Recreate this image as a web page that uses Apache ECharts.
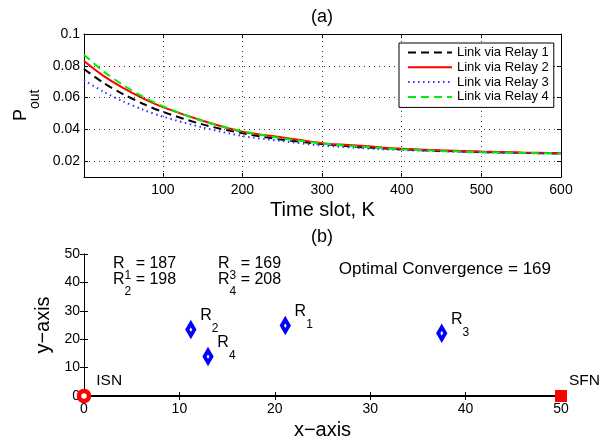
<!DOCTYPE html>
<html>
<head>
<meta charset="utf-8">
<script src="https://cdn.jsdelivr.net/npm/echarts@6/dist/echarts.min.js"></script>
<style>
html, body { margin: 0; padding: 0; background: #fff; }
#chart { width: 612px; height: 442px; }
</style>
</head>
<body>
<div id="chart"></div>
<script>
// (a) outage probability vs time slot
const timeSlots = [1, 25, 50, 75, 100, 150, 200, 250, 300, 350, 400, 450, 500, 550, 600];
const pRelay1 = [0.078, 0.0694, 0.0622, 0.0561, 0.051, 0.0431, 0.0375, 0.0335, 0.0308, 0.0288, 0.0274, 0.0264, 0.0257, 0.0252, 0.0248];
const pRelay2 = [0.083, 0.0738, 0.0661, 0.0595, 0.054, 0.0454, 0.0385, 0.0349, 0.0313, 0.0296, 0.0278, 0.0268, 0.026, 0.0254, 0.025];
const pRelay3 = [0.071, 0.0638, 0.0576, 0.0524, 0.048, 0.0412, 0.0358, 0.0326, 0.0298, 0.0282, 0.027, 0.0262, 0.0255, 0.0251, 0.0247];
const pRelay4 = [0.087, 0.0766, 0.0679, 0.0606, 0.0545, 0.0452, 0.0388, 0.0343, 0.0312, 0.029, 0.0275, 0.0264, 0.0257, 0.0252, 0.0248];
const seriesNames = ['Link via Relay 1', 'Link via Relay 2', 'Link via Relay 3', 'Link via Relay 4'];
const xTicksA = [100, 200, 300, 400, 500, 600];
const yTicksA = [0.02, 0.04, 0.06, 0.08, 0.1];

// (b) node placement
const relayIds = ['1', '2', '3', '4'];
const relayX = [21.1, 11.2, 37.5, 13.0];
const relayY = [24.8, 23.4, 22.1, 13.9];
const convergence = [187, 198, 169, 208];
const optimalConvergence = 169;
const nodeNames = ['ISN', 'SFN'];
const nodeX = [0, 50];
const nodeY = [0, 0];

const FONT = 'Liberation Sans, Arial, sans-serif';
const chart = echarts.init(document.getElementById('chart'), null, { renderer: 'canvas' });

function zip(xs, ys) { return xs.map((x, i) => [x, ys[i]]); }

const pData = [pRelay1, pRelay2, pRelay3, pRelay4];
const lineColors = ['#000000', '#ff0000', '#3333ff', '#00ee00'];
const lineTypes = [[8, 5], 'solid', [1.5, 3.5], [8, 5]];

const subRich = (rSize, sSize, h) => ({
  h: { fontSize: 1, lineHeight: h, fontFamily: FONT, color: '#000' },
  r: { fontSize: rSize, lineHeight: rSize + 1, verticalAlign: 'top', fontFamily: FONT, color: '#000' },
  s: { fontSize: sSize, lineHeight: sSize, verticalAlign: 'bottom', fontFamily: FONT, color: '#000' }
});

const boxAxisLine = { show: true, lineStyle: { color: '#000', width: 1 } };
const tickInside = (vals) => ({ show: true, inside: true, length: 4, lineStyle: { color: '#000' }, customValues: vals });
const tickLabel = { color: '#000', fontSize: 14, fontFamily: FONT };

// top-left convergence text, two columns
const convText = [];
const colX = [112.7, 217.7];
const rowY = [255.3, 271.5];
convergence.forEach((v, i) => {
  const col = Math.floor(i / 2), row = i % 2;
  convText.push({
    type: 'text',
    x: colX[col], y: rowY[row],
    style: {
      text: '{h| }{r|R}{s|' + relayIds[i] + '}{r| = ' + v + '}',
      rich: subRich(16, 12, 26),
      verticalAlign: 'top', textVerticalAlign: 'top'
    }
  });
});

// dotted grid of panel (a), drawn as mark lines at the tick values
const gridLines = xTicksA.slice(0, -1).map(v => ({ xAxis: v }))
  .concat(yTicksA.slice(0, -1).map(v => ({ yAxis: v })));

const option = {
  animation: false,
  backgroundColor: '#fff',
  textStyle: { fontFamily: FONT },
  grid: [
    { left: 84, top: 34, width: 477, height: 143 },
    { left: 84, top: 254, width: 477, height: 142 }
  ],
  legend: {
    left: 399, top: 43, orient: 'vertical', z: 30,
    itemWidth: 44, itemHeight: 14, itemGap: 1.8,
    padding: [3, 5, 4, 8],
    borderColor: '#000', borderWidth: 1, borderRadius: 0,
    backgroundColor: '#fff',
    selectedMode: false,
    itemStyle: { opacity: 0 },
    textStyle: { fontSize: 13, color: '#000', fontFamily: FONT },
    data: seriesNames
  },
  xAxis: [
    {
      gridIndex: 0, type: 'value', min: 1, max: 600,
      axisLine: boxAxisLine, axisTick: tickInside(xTicksA),
      axisLabel: Object.assign({ customValues: xTicksA, margin: 6 }, tickLabel),
      splitLine: { show: false },
      name: 'Time slot, K', nameLocation: 'middle', nameGap: 23,
      nameTextStyle: { fontSize: 20, color: '#000', fontFamily: FONT }
    },
    {
      gridIndex: 0, type: 'value', min: 1, max: 600, position: 'top',
      axisLine: boxAxisLine, axisTick: tickInside(xTicksA),
      axisLabel: { show: false }, splitLine: { show: false }
    },
    {
      gridIndex: 1, type: 'value', min: 0, max: 50, interval: 10,
      axisLine: boxAxisLine, axisTick: { show: true, inside: true, length: 4 },
      axisLabel: Object.assign({ margin: 6 }, tickLabel),
      splitLine: { show: false },
      name: 'x\u2212axis', nameLocation: 'middle', nameGap: 24,
      nameTextStyle: { fontSize: 20, color: '#000', fontFamily: FONT }
    },
    {
      gridIndex: 1, type: 'value', min: 0, max: 50, interval: 10, position: 'top',
      axisLine: boxAxisLine, axisTick: { show: true, inside: true, length: 4 },
      axisLabel: { show: false }, splitLine: { show: false }
    }
  ],
  yAxis: [
    {
      gridIndex: 0, type: 'value', min: 0.01, max: 0.1,
      axisLine: boxAxisLine, axisTick: tickInside(yTicksA),
      axisLabel: Object.assign({ customValues: yTicksA, margin: 4 }, tickLabel),
      splitLine: { show: false },
      name: '{h| }{r|P}{s|out}', nameLocation: 'middle', nameGap: 40, nameRotate: 90,
      nameTextStyle: { rich: subRich(18, 14, 30) }
    },
    {
      gridIndex: 0, type: 'value', min: 0.01, max: 0.1, position: 'right',
      axisLine: boxAxisLine, axisTick: tickInside(yTicksA),
      axisLabel: { show: false }, splitLine: { show: false }
    },
    {
      gridIndex: 1, type: 'value', min: 0, max: 50, interval: 10,
      axisLine: boxAxisLine, axisTick: { show: true, inside: true, length: 4 },
      axisLabel: Object.assign({ margin: 4 }, tickLabel),
      splitLine: { show: false },
      name: 'y\u2212axis', nameLocation: 'middle', nameGap: 28, nameRotate: 90,
      nameTextStyle: { fontSize: 20, color: '#000', fontFamily: FONT }
    },
    {
      gridIndex: 1, type: 'value', min: 0, max: 50, interval: 10, position: 'right',
      axisLine: boxAxisLine, axisTick: { show: true, inside: true, length: 4 },
      axisLabel: { show: false }, splitLine: { show: false }
    }
  ],
  graphic: [
    { type: 'text', x: 322, y: 17.5, style: { text: '(a)', fontSize: 18, fontFamily: FONT, fill: '#000', align: 'center', verticalAlign: 'middle', textAlign: 'center', textVerticalAlign: 'middle' } },
    { type: 'text', x: 322, y: 237.5, style: { text: '(b)', fontSize: 18, fontFamily: FONT, fill: '#000', align: 'center', verticalAlign: 'middle', textAlign: 'center', textVerticalAlign: 'middle' } },
    { type: 'text', x: 551, y: 269, style: { text: 'Optimal Convergence = ' + optimalConvergence, fontSize: 17, fontFamily: FONT, fill: '#000', align: 'right', verticalAlign: 'middle', textAlign: 'right', textVerticalAlign: 'middle' } }
  ].concat(convText),
  series: [
    {
      name: 'grid', type: 'line', xAxisIndex: 0, yAxisIndex: 0, data: [], z: 1,
      markLine: {
        silent: true, symbol: ['none', 'none'], animation: false,
        label: { show: false },
        lineStyle: { color: '#333', type: [1, 4], width: 1 },
        emphasis: { disabled: true },
        data: gridLines
      }
    }
  ].concat(pData.map((arr, i) => ({
    name: seriesNames[i], type: 'line', xAxisIndex: 0, yAxisIndex: 0,
    data: zip(timeSlots, arr), symbol: 'none', smooth: 0.3,
    lineStyle: { color: lineColors[i], width: 2, type: lineTypes[i] },
    itemStyle: { color: lineColors[i] }, z: 3 + i
  }))).concat([
    {
      name: 'link', type: 'line', xAxisIndex: 2, yAxisIndex: 2,
      data: zip(nodeX, nodeY), symbol: 'none',
      lineStyle: { color: '#000', width: 2 }, z: 2
    },
    {
      name: 'relays', type: 'scatter', xAxisIndex: 2, yAxisIndex: 2, clip: false,
      symbol: 'diamond', symbolSize: [7, 12],
      itemStyle: { color: '#fff', borderColor: '#0000ff', borderWidth: 4, opacity: 1 },
      data: relayIds.map((id, i) => ({ name: id, value: [relayX[i], relayY[i]] })),
      label: {
        show: true, position: 'right', distance: 4, offset: [0, -8.5], color: '#000',
        formatter: (p) => '{h| }{r|R}{s|' + p.name + '}',
        rich: subRich(16, 12, 27)
      },
      z: 5
    },
    {
      name: 'ISN', type: 'scatter', xAxisIndex: 2, yAxisIndex: 2, clip: false,
      symbol: 'circle', symbolSize: 10,
      itemStyle: { color: '#fff', borderColor: '#ff0000', borderWidth: 4.5, opacity: 1 },
      data: [{ name: nodeNames[0], value: [nodeX[0], nodeY[0]] }],
      label: { show: true, position: 'right', distance: 5, offset: [0, -15], formatter: '{b}', fontSize: 15.5, color: '#000', fontFamily: FONT },
      z: 6
    },
    {
      name: 'SFN', type: 'scatter', xAxisIndex: 2, yAxisIndex: 2, clip: false,
      symbol: 'rect', symbolSize: 12,
      itemStyle: { color: '#ff0000', opacity: 1 },
      data: [{ name: nodeNames[1], value: [nodeX[1], nodeY[1]] }],
      label: { show: true, position: 'right', distance: 2, offset: [0, -15], formatter: '{b}', fontSize: 15.5, color: '#000', fontFamily: FONT },
      z: 6
    }
  ])
};

chart.setOption(option);
</script>
</body>
</html>
